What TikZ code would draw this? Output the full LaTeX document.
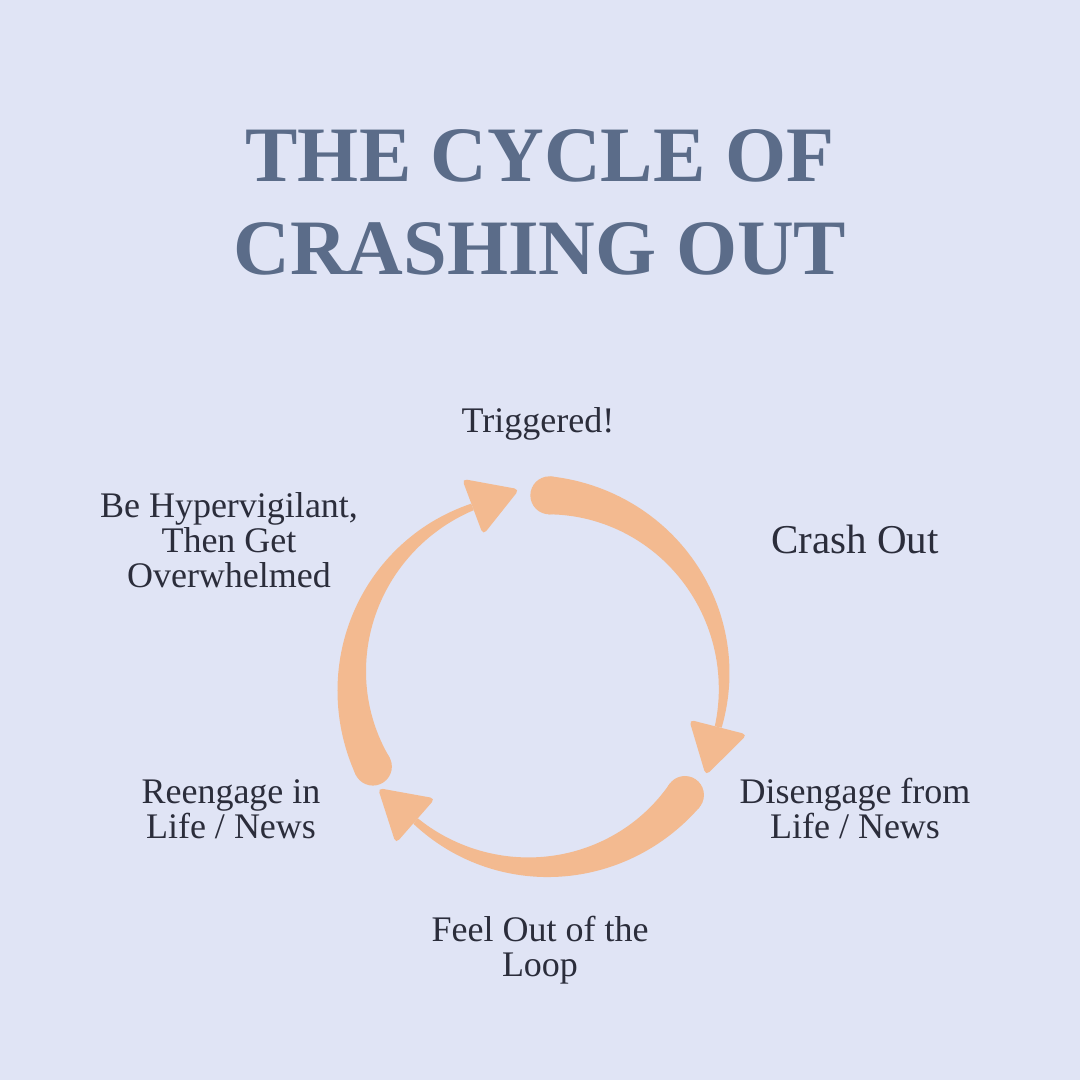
\documentclass[tikz,border=0pt]{standalone}
\usepackage{fontspec}
\setmainfont{Liberation Serif}
\usetikzlibrary{calc}
\definecolor{bgcol}{RGB}{224,228,245}
\definecolor{titlecol}{RGB}{91,108,137}
\definecolor{textcol}{RGB}{43,45,59}
\definecolor{arrowcol}{RGB}{243,186,144}
\newcommand{\cycarrow}[2]{%
  \pgfmathsetmacro{\aS}{#1}%
  \pgfmathsetmacro{\aB}{#2}%
  \fill[arrowfill] plot[variable=\s,domain=0:1,samples=60]
      ({\aS-\s*(\aS-\aB)}:{186+0.5*(7+31*pow(1.001-\s,1.1))})
    -- plot[variable=\s,domain=1:0,samples=60]
      ({\aS-\s*(\aS-\aB)}:{186-0.5*(7+31*pow(1.001-\s,1.1))}) -- cycle;
  \fill[arrowfill] (\aS:186) circle[radius=19];
  \fill[arrowfill, rounded corners=5pt] (\aB:216) -- (\aB-15.05:192.6) -- (\aB:156) -- cycle;
}
\begin{document}
\begin{tikzpicture}[x=1pt,y=1pt,
  arrowfill/.style={fill=arrowcol},
  lbl/.style={text=textcol, align=center, anchor=base, inner sep=0pt, font=\fontsize{36}{35}\selectfont},
  ttl/.style={text=titlecol, align=center, anchor=base, inner sep=0pt, font=\bfseries\fontsize{78.5}{93}\selectfont}]
\fill[bgcol] (-538,-399) rectangle (542,681);
\useasboundingbox (-538,-399) rectangle (542,681);
\node[ttl] (title) at (2,406) {THE CYCLE OF\\CRASHING OUT};
\cycarrow{86.5}{-14.35}
\cycarrow{-37.8}{-131.2}
\cycarrow{207.4}{110.6}
\node[lbl] (trig) at (0,248) {Triggered!};
\node[lbl, font=\fontsize{41}{41}\selectfont] (crash) at (317,128) {Crash Out};
\node[lbl] (diseng) at (317,-157) {Disengage from\\Life / News};
\node[lbl] (loop) at (2,-295) {Feel Out of the\\Loop};
\node[lbl] (reeng) at (-307,-157) {Reengage in\\Life / News};
\node[lbl] (hyper) at (-309,94) {Be Hypervigilant,\\Then Get\\Overwhelmed};
\end{tikzpicture}
\end{document}
